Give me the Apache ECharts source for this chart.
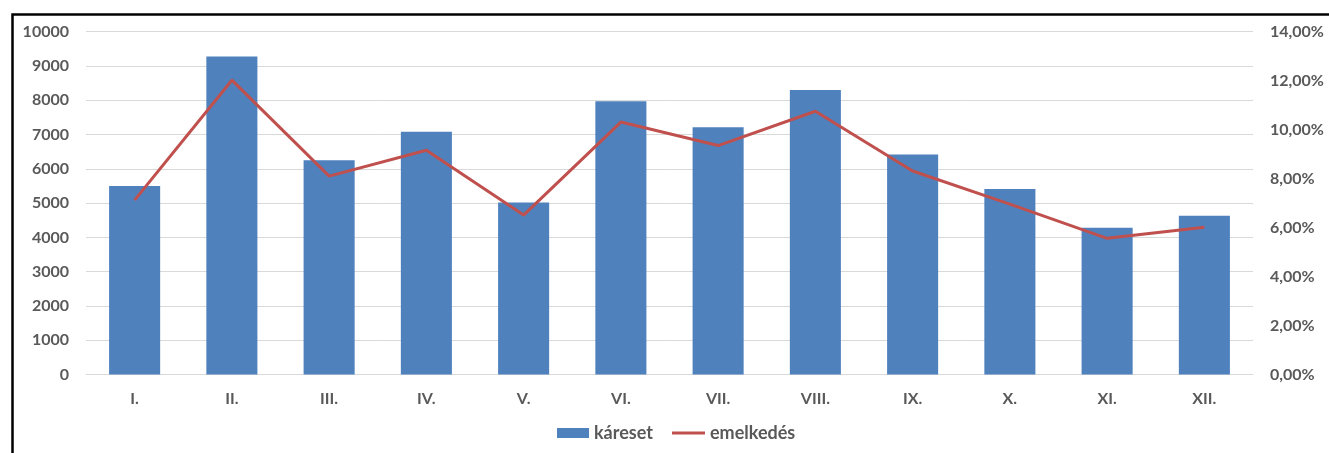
<!DOCTYPE html>
<html>
<head>
<meta charset="utf-8">
<script src="https://cdn.jsdelivr.net/npm/echarts@6/dist/echarts.min.js"></script>
<style>
  html, body { margin: 0; padding: 0; background: #fff; }
  #chart { width: 1329px; height: 453px; }
</style>
</head>
<body>
<div id="chart"></div>
<script>
// Monthly case counts and their rate
const months = ['I.', 'II.', 'III.', 'IV.', 'V.', 'VI.', 'VII.', 'VIII.', 'IX.', 'X.', 'XI.', 'XII.'];
const kareset = [5500, 9280, 6250, 7080, 5020, 7970, 7210, 8300, 6420, 5410, 4280, 4630];
const emelkedes = [0.0712, 0.1202, 0.0810, 0.0916, 0.0651, 0.1031, 0.0935, 0.1075, 0.0831, 0.0696, 0.0556, 0.0601];

const FONT = 'Lato';
const TEXT = '#595959';
const BAR = '#4F81BD';
const LINE = '#C0504D';
const labelStyle = { color: TEXT, fontFamily: FONT, fontWeight: 'bold', fontSize: 16 };
const legendText = { color: TEXT, fontFamily: FONT, fontWeight: 'bold', fontSize: 18 };

const chart = echarts.init(document.getElementById('chart'), null, { renderer: 'canvas' });
chart.setOption({
  animation: false,
  backgroundColor: '#ffffff',
  textStyle: { fontFamily: FONT },
  graphic: [{
    type: 'rect',
    left: 10, top: 12,
    shape: { width: 1400, height: 500 },
    style: { fill: 'none', stroke: '#000', lineWidth: 2.5 },
    silent: true
  }],
  grid: { left: 86, right: 76, top: 31.7, bottom: 78.5, containLabel: false },
  legend: [{
    left: 557, top: 424, padding: 0,
    itemWidth: 32, itemHeight: 10, itemGap: 4,
    textStyle: legendText,
    data: [{ name: 'káreset', icon: 'rect' }]
  }, {
    left: 672, top: 424, padding: 0,
    itemWidth: 33, itemHeight: 3,
    textStyle: legendText,
    data: [{ name: 'emelkedés', icon: 'rect' }]
  }],
  xAxis: {
    type: 'category',
    data: months,
    axisLine: { lineStyle: { color: '#D9D9D9', width: 1 } },
    axisTick: { show: false },
    axisLabel: Object.assign({ margin: 16 }, labelStyle)
  },
  yAxis: [{
    type: 'value',
    min: 0, max: 10000, interval: 1000,
    axisLine: { show: false },
    axisTick: { show: false },
    splitLine: { lineStyle: { color: '#D9D9D9', width: 1 } },
    axisLabel: Object.assign({ margin: 17, formatter: v => String(v) }, labelStyle)
  }, {
    type: 'value',
    min: 0, max: 0.14, interval: 0.02,
    axisLine: { show: false },
    axisTick: { show: false },
    splitLine: { show: false },
    axisLabel: Object.assign({
      margin: 17,
      formatter: v => (v * 100).toFixed(2).replace('.', ',') + '%'
    }, labelStyle)
  }],
  series: [{
    name: 'káreset',
    type: 'bar',
    data: kareset,
    barWidth: '52.5%',
    itemStyle: { color: BAR }
  }, {
    name: 'emelkedés',
    type: 'line',
    yAxisIndex: 1,
    data: emelkedes,
    symbol: 'none',
    lineStyle: { color: LINE, width: 3 },
    itemStyle: { color: LINE }
  }]
});
</script>
</body>
</html>
